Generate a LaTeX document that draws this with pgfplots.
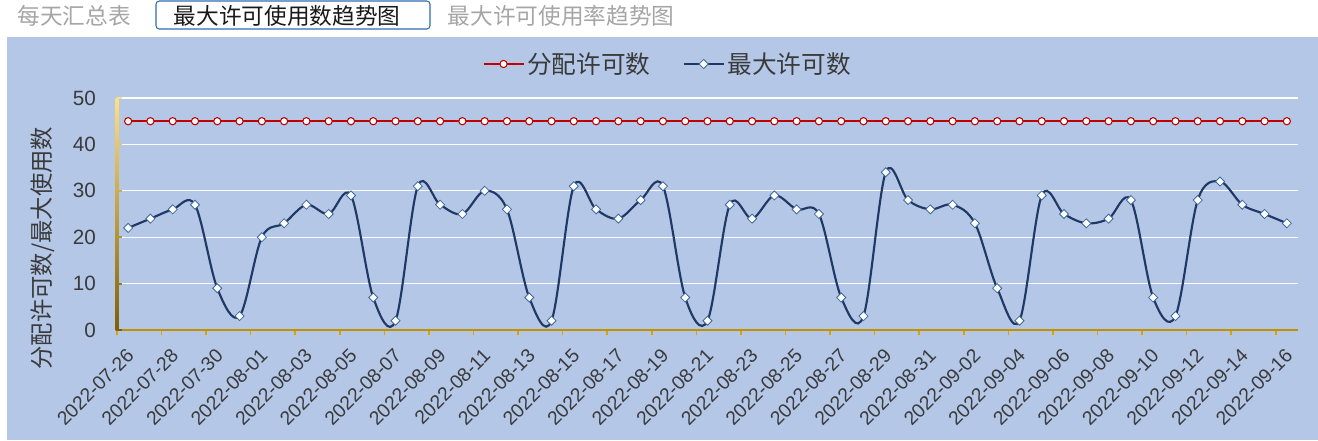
\documentclass[border=0pt]{standalone}
\usepackage{fontspec}
\setmainfont{Noto Sans CJK SC}
\newfontfamily\tickfont{Liberation Sans}
\usepackage{pgfplots}
\usepackage{pgfplotstable}
\pgfplotsset{compat=1.18}
\definecolor{panel}{HTML}{B4C7E7}
\definecolor{redline}{HTML}{C00000}
\definecolor{blueline}{HTML}{203864}
\definecolor{dmborder}{HTML}{3D6A9E}
\definecolor{ylight}{HTML}{FFE083}
\definecolor{ydark}{HTML}{7F6000}
\definecolor{xaxis}{HTML}{BF9000}
\definecolor{xtickc}{HTML}{D9A400}
\definecolor{labelgray}{HTML}{3A3A3A}
\definecolor{tabgray}{HTML}{A6A6A6}
\definecolor{tabblue}{HTML}{2E6DB4}

\pgfplotstableread{
x alloc max
0 45 22
1 45 24
2 45 26
3 45 27
4 45 9
5 45 3
6 45 20
7 45 23
8 45 27
9 45 25
10 45 29
11 45 7
12 45 2
13 45 31
14 45 27
15 45 25
16 45 30
17 45 26
18 45 7
19 45 2
20 45 31
21 45 26
22 45 24
23 45 28
24 45 31
25 45 7
26 45 2
27 45 27
28 45 24
29 45 29
30 45 26
31 45 25
32 45 7
33 45 3
34 45 34
35 45 28
36 45 26
37 45 27
38 45 23
39 45 9
40 45 2
41 45 29
42 45 25
43 45 23
44 45 24
45 45 28
46 45 7
47 45 3
48 45 28
49 45 32
50 45 27
51 45 25
52 45 23
}\datatable

\begin{document}
\begin{tikzpicture}
\fill[white] (0pt,0pt) rectangle (988.5pt,330pt);
\fill[panel] (5.6pt,0pt) rectangle (988.5pt,302.25pt);
% tabs
\node[text=tabgray, font=\fontsize{17pt}{20pt}\selectfont] at (55.5pt,318pt) {每天汇总表};
\draw[tabblue, rounded corners=2.5pt, line width=0.8pt, fill=white] (117pt,308.25pt) rectangle (322.5pt,329.25pt);
\node[text=black!90, font=\fontsize{17pt}{20pt}\selectfont] at (215.25pt,318.4pt) {最大许可使用数趋势图};
\node[text=tabgray, font=\fontsize{17pt}{20pt}\selectfont] at (420.75pt,318pt) {最大许可使用率趋势图};

\begin{axis}[
  at={(87.75pt,82.5pt)}, anchor=south west,
  scale only axis,
  width=885.75pt, height=174pt,
  xmin=-0.5, xmax=52.5, ymin=0, ymax=50,
  clip=false,
  axis x line*=bottom, axis y line*=left,
  x axis line style={draw=xaxis, line width=1.8pt, -},
  y axis line style={draw=none, -},
  xtick={0,2,...,52},
  xticklabels={2022-07-26,2022-07-28,2022-07-30,2022-08-01,2022-08-03,2022-08-05,2022-08-07,2022-08-09,2022-08-11,2022-08-13,2022-08-15,2022-08-17,2022-08-19,2022-08-21,2022-08-23,2022-08-25,2022-08-27,2022-08-29,2022-08-31,2022-09-02,2022-09-04,2022-09-06,2022-09-08,2022-09-10,2022-09-12,2022-09-14,2022-09-16},
  minor xtick={-0.5,1.5,...,51.5},
  tick align=outside,
  minor tick length=4pt,
  xtick style={draw=none},
  ytick style={draw=none},
  minor x tick style={draw=xtickc, line width=1.2pt},
  ytick={0,10,...,50},
  /pgf/number format/assume math mode=true,
  ymajorgrids, major grid style={white, line width=1pt},
  xticklabel style={xshift=2.5pt, yshift=-11.5pt, rotate=45, anchor=east, font=\tickfont\fontsize{14.5pt}{15pt}\selectfont, text=labelgray, inner sep=1pt},
  yticklabel style={font=\tickfont\fontsize{15.5pt}{16pt}\selectfont, text=labelgray, xshift=-8pt},
  ylabel={分配许可数/最大使用数},
  ylabel style={at={(axis description cs:-0.063,0.353)}, anchor=center, font=\fontsize{17.5pt}{18pt}\selectfont, text=labelgray},
  legend style={at={(axis description cs:0.4665,1.1466)}, anchor=center, draw=none, fill=none,
    font=\fontsize{18.5pt}{19pt}\selectfont, text=labelgray, legend columns=2,
    /tikz/every even column/.append style={column sep=22pt}},
  legend image code/.code={\draw[mark repeat=2,mark phase=2,#1] plot coordinates {(0pt,0pt) (15pt,0pt) (30pt,0pt)};},
]
\shade[bottom color=ydark, top color=ylight] ([xshift=-1.1pt]rel axis cs:0,0) rectangle ([xshift=1.1pt]rel axis cs:0,1);
\draw[line width=1.6pt, color=ydark] (axis cs:-0.5,0) -- ++(-4.5pt,0);
\draw[line width=1.6pt, color=ylight!20!ydark] (axis cs:-0.5,10) -- ++(-4.5pt,0);
\draw[line width=1.6pt, color=ylight!40!ydark] (axis cs:-0.5,20) -- ++(-4.5pt,0);
\draw[line width=1.6pt, color=ylight!60!ydark] (axis cs:-0.5,30) -- ++(-4.5pt,0);
\draw[line width=1.6pt, color=ylight!80!ydark] (axis cs:-0.5,40) -- ++(-4.5pt,0);
\draw[line width=1.6pt, color=ylight] (axis cs:-0.5,50) -- ++(-4.5pt,0);
\addplot[redline, line width=1.6pt, mark=*, mark size=2.7pt, mark options={fill=white, draw=redline, line width=0.8pt}] table[x=x, y=alloc] {\datatable};
\addlegendentry{分配许可数}
\addplot[blueline, line width=1.6pt, smooth, tension=0.55, mark=square*, mark size=2.4pt, mark options={rotate=45, fill=white, draw=dmborder, line width=0.6pt}] table[x=x, y=max] {\datatable};
\addlegendentry{最大许可数}
\end{axis}
\pgfresetboundingbox
\useasboundingbox (0pt,0pt) rectangle (988.5pt,330pt);
\end{tikzpicture}
\end{document}
